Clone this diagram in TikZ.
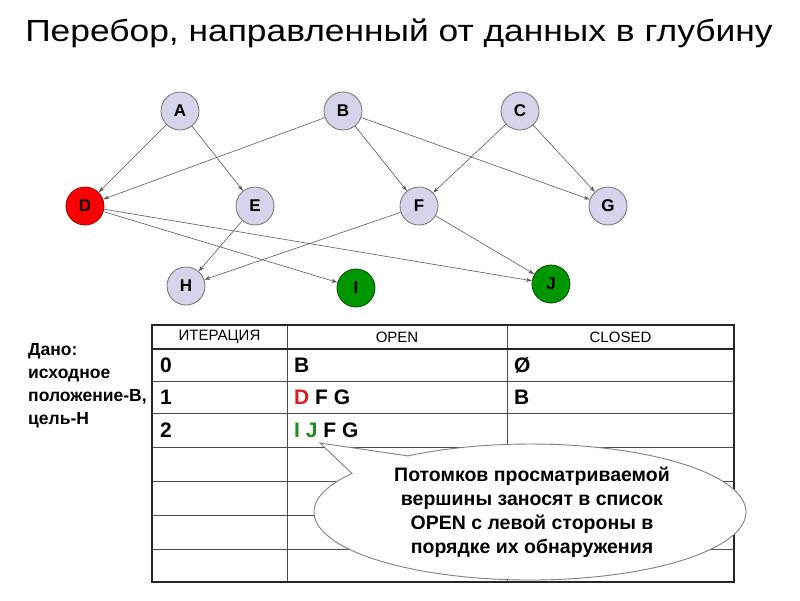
\documentclass[tikz,border=0pt]{standalone}
\usepackage{fontspec}
\setmainfont{Liberation Sans}
\usetikzlibrary{arrows.meta}
\definecolor{lav}{RGB}{212,212,234}
\definecolor{vred}{RGB}{250,0,0}
\definecolor{vgreen}{RGB}{0,150,0}
\definecolor{tgreen}{RGB}{30,140,30}
\definecolor{tred}{RGB}{220,30,30}
\definecolor{edgegray}{RGB}{90,90,90}
\begin{document}
\begin{tikzpicture}[x=1pt,y=-1pt,
  vtx/.style={circle, draw=black!55, fill=lav, line width=0.8pt, minimum size=38pt, inner sep=0pt, font=\fontsize{17}{17}\selectfont\bfseries},
  edge/.style={draw=edgegray, line width=0.6pt, -{Stealth[length=6pt,width=4pt]}},
  hdr/.style={font=\fontsize{15}{15}\selectfont, inner sep=0pt},
  cell/.style={anchor=west, font=\fontsize{21}{21}\selectfont\bfseries, inner sep=0pt},
  thick line/.style={line width=2.2pt, draw=black!85},
  thin line/.style={line width=1pt, draw=black!70},
  bubble/.style={draw=black!50, fill=white, line width=0.9pt}
]
\useasboundingbox (0,0) rectangle (800,600);
\fill[white] (0,0) rectangle (800,600);

% title
\node[font=\fontsize{30.5}{30.5}\selectfont, inner sep=0pt, anchor=base] (title) at (399,41) {\scalebox{1.16}[1]{Перебор, направленный от данных в глубину}};

% graph
\node[vtx] (A) at (180,111) {A};
\node[vtx] (B) at (343,111) {B};
\node[vtx] (C) at (520,111) {C};
\node[vtx, fill=vred, draw=red!60!black] (D) at (85,206) {D};
\node[vtx] (E) at (255,206) {E};
\node[vtx] (F) at (419,206) {F};
\node[vtx] (G) at (608,206) {G};
\node[vtx] (H) at (186,286) {H};
\node[vtx, fill=vgreen, draw=green!30!black] (I) at (356,288) {I};
\node[vtx, fill=vgreen, draw=green!30!black] (J) at (551,284) {J};

\draw[edge] (A) -- (D);
\draw[edge] (A) -- (E);
\draw[edge] (B) -- (D);
\draw[edge] (B) -- (F);
\draw[edge] (B) -- (G);
\draw[edge] (C) -- (F);
\draw[edge] (C) -- (G);
\draw[edge] (D) -- (I);
\draw[edge] (D) -- (J);
\draw[edge] (E) -- (H);
\draw[edge] (F) -- (H);
\draw[edge] (F) -- (J);

% left text
\node[anchor=north west, align=left, inner sep=0pt, font=\fontsize{17.5}{23}\selectfont\bfseries] (given) at (28,343)
  {Дано:\\исходное\\положение-В,\\цель-Н};

% table
\foreach \y in {381,413,447,481,515,549} \draw[thin line] (152,\y) -- (734,\y);
\draw[thin line] (287,325) -- (287,582);
\draw[thin line] (507,325) -- (507,582);
\draw[thick line] (152,349) -- (734,349);
\draw[thick line] (152,325) rectangle (734,582);

\node[hdr] (h1) at (219.5,337) {ИТЕРАЦИЯ};
\node[hdr] (h2) at (397,337) {OPEN};
\node[hdr] (h3) at (620.5,337) {CLOSED};

\node[cell] (r0a) at (160,365) {0};
\node[cell] (r0b) at (294,365) {B};
\node[cell] (r0c) at (514,365) {Ø};
\node[cell] (r1a) at (160,397) {1};
\node[cell] (r1b) at (294,397) {\textcolor{tred}{D} F G};
\node[cell] (r1c) at (514,397) {B};
\node[cell] (r2a) at (160,430) {2};
\node[cell] (r2b) at (294,430) {\textcolor{tgreen}{I J} F G};

% speech bubble
\coordinate (tip) at (320,443);
\draw[bubble] (352,473.5) arc[start angle=145.5, end angle=484.4, x radius=216pt, y radius=68pt] -- (tip) -- cycle;
\node[align=center, inner sep=0pt, font=\fontsize{19.5}{24}\selectfont\bfseries] (note) at (532,512)
  {Потомков просматриваемой\\вершины заносят в список\\OPEN с левой стороны в\\порядке их обнаружения};
\end{tikzpicture}
\end{document}
